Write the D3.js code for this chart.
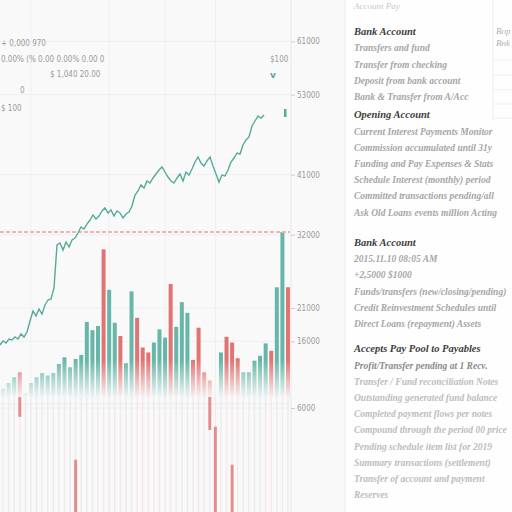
<!DOCTYPE html>
<html><head><meta charset="utf-8">
<script src="https://cdn.jsdelivr.net/npm/d3@7"></script>
<style>html,body{margin:0;padding:0;background:#f9f9f9;}svg{display:block}</style>
</head><body><svg id="c" width="512" height="512"></svg>
<script>
// ---------------- data ----------------
const linePrices = [15450,16050,15750,16350,16200,16650,16350,17100,16650,17400,
  19050,20550,19800,20850,20100,21450,22200,22350,24000,30450,
  30750,29700,30900,30150,31200,31500,32250,33150,32850,33600,
  34200,34950,34350,34800,35550,36000,35250,35700,34800,35550,
  35250,34500,35100,35400,36300,37950,38550,39450,39000,40050,
  39750,40500,41100,41700,42150,41400,40650,40050,39750,40500,
  41100,40050,41400,40950,41850,42900,43650,42750,42300,43050,
  43650,42300,41100,39900,40950,40800,41700,42900,43500,44250,
  44100,45450,46200,46650,48300,49050,49800,49500,49950];
const barVolumes = [5,8.5,12,15,2.5,8.5,12,14.5,13,14.5,
  20,24,18,23,25.5,45.5,40.5,43,89.5,65,
  45,37,20.5,64,48,30,27,33,41,36,
  68.5,42.5,57.5,51,22.5,42,15,10,0,27,
  36.5,33,23.5,15,15,22,25,32.5,28,66.5,
  100,66.5];
const barSides = ["u","u","u","d","u","u","u","u","u","u",
  "u","u","u","u","u","u","u","u","d","u",
  "u","d","u","u","d","d","d","u","u","u",
  "d","u","u","u","d","d","d","d","d","u",
  "d","d","d","u","u","u","u","u","d","u",
  "u","d"];
const dropIdx  = [3, 13, 37, 38, 41];
const dropFrom = [0, -38, 0, -18, -41];
const dropTo   = [-12, -70, -20, -70, -70];
const priceTicks = [61000, 53000, 41000, 32000, 21000, 16000, 6000];
const gridIdx = [5, 19, 29, 38];
const refPrice = 32400;
const lastPrice = 50250;
const notes = ["+ 0,000 970", "0.00% (% 0.00 0.00% 0.00 0", "$ 1,040 20.00", "0", "$ 100"];
const markLabel = "$100";
const sections = [
  {title:"Bank Account", lines:["Transfers and fund","Transfer from checking","Deposit from bank account","Bank & Transfer from A/Acc"]},
  {title:"Opening Account", lines:["Current Interest Payments Monitor","Commission accumulated until 31y","Funding and Pay Expenses & Stats","Schedule Interest (monthly) period","Committed transactions pending/all","Ask Old Loans events million Acting"]},
  {title:"Bank Account", lines:["2015.11.10 08:05 AM","+2,5000 $1000","Funds/transfers (new/closing/pending)","Credit Reinvestment Schedules until","Direct Loans (repayment) Assets"]},
  {title:"Accepts Pay Pool to Payables", lines:["Profit/Transfer pending at 1 Recv.","Transfer / Fund reconciliation Notes","Outstanding generated fund balance","Completed payment flows per notes","Compound through the period 00 price","Pending schedule item list for 2019","Summary transactions (settlement)","Transfer of account and payment","Reserves"]}
];
const sideTable = ["Bop","Bnk"];

// ---------------- drawing ----------------
const svg = d3.select("#c");
const TEAL = "#66b7a9", RED = "#df7473", LINE = "#57aa9a";
const priceY = d3.scaleLinear().domain([6000, 61200]).range([408, 40]);
const volY = d3.scaleLinear().domain([0, 100]).range([397, 232]);
const barX = d3.scaleLinear().domain([0, 51]).range([3, 288]);
const lineX = d3.scaleLinear().domain([0, 100]).range([0, 300]);

svg.append("rect").attr("width",512).attr("height",512).attr("fill","#f9f9f9");
svg.append("rect").attr("x",345).attr("width",167).attr("height",512).attr("fill","#fefefe");
svg.append("line").attr("x1",345).attr("x2",345).attr("y1",0).attr("y2",512).attr("stroke","#ececec");

const defs = svg.append("defs");
function grad(id, col){
  const g = defs.append("linearGradient").attr("id",id).attr("gradientUnits","userSpaceOnUse")
    .attr("x1",0).attr("x2",0).attr("y1",360).attr("y2",399);
  g.append("stop").attr("offset",0).attr("stop-color",col).attr("stop-opacity",1);
  g.append("stop").attr("offset",1).attr("stop-color",col).attr("stop-opacity",0.02);
}
grad("gu", TEAL); grad("gd", RED);

svg.append("g").selectAll("line").data(priceTicks).join("line")
  .attr("x1",0).attr("x2",290).attr("y1",d=>priceY(d)).attr("y2",d=>priceY(d))
  .attr("stroke","#efefef");
svg.append("g").selectAll("line").data(gridIdx).join("line")
  .attr("x1",d=>barX(d)).attr("x2",d=>barX(d)).attr("y1",0).attr("y2",400)
  .attr("stroke","#f0f0f0");

svg.append("g").selectAll("line").data(barVolumes.map((v,i)=>i)).join("line")
  .attr("x1",i=>barX(i)).attr("x2",i=>barX(i)).attr("y1",volY(0)).attr("y2",512)
  .attr("stroke",(i)=>barSides[i]==="d"?"#f6e9e9":"#ececec").attr("stroke-width",1.5);
svg.append("line").attr("x1",0).attr("x2",290).attr("y1",404).attr("y2",404).attr("stroke","#ededed");

svg.append("g").selectAll("rect").data(barVolumes.map((v,i)=>({v,i}))).join("rect")
  .attr("x",d=>barX(d.i)-2).attr("width",4)
  .attr("y",d=>volY(d.v)).attr("height",d=>volY(0)-volY(d.v))
  .attr("fill",d=>barSides[d.i]==="d"?"url(#gd)":"url(#gu)");

svg.append("g").selectAll("rect").data(dropIdx.map((i,k)=>({i,a:dropFrom[k],b:dropTo[k]}))).join("rect")
  .attr("x",d=>barX(d.i)-1.5).attr("width",3)
  .attr("y",d=>volY(d.a)).attr("height",d=>volY(d.b)-volY(d.a))
  .attr("fill",RED).attr("opacity",0.8);

svg.append("line").attr("x1",0).attr("x2",290).attr("y1",priceY(refPrice)).attr("y2",priceY(refPrice))
  .attr("stroke","#f2b3b1").attr("stroke-width",2).attr("stroke-dasharray","4,2");

svg.append("path").datum(linePrices)
  .attr("d", d3.line().x((d,i)=>lineX(i)).y(d=>priceY(d)))
  .attr("fill","none").attr("stroke",LINE).attr("stroke-width",1.4);
svg.append("rect").attr("x",284).attr("y",priceY(lastPrice)-4).attr("width",2.5).attr("height",8).attr("fill",LINE);

svg.append("line").attr("x1",291).attr("x2",291).attr("y1",0).attr("y2",512).attr("stroke","#e8e8e8");
const ax = svg.append("g").attr("transform","translate(291,0)")
  .call(d3.axisRight(priceY).tickValues(priceTicks).tickSize(4).tickPadding(2).tickFormat(d3.format("d")));
ax.select(".domain").remove();
ax.selectAll("line").attr("stroke","#cfcfcf");
ax.selectAll("text").attr("fill","#9a9a9a").style("font-family","DejaVu Sans Condensed, DejaVu Sans, sans-serif").style("font-size","8px");

const noteLayout = [[1,46],[1,62],[50,77],[20,93],[1,111]];
svg.append("g").selectAll("text").data(notes).join("text")
  .attr("x",(d,i)=>noteLayout[i][0]).attr("y",(d,i)=>noteLayout[i][1]).text(d=>d)
  .attr("fill","#9a9a9a").style("font-family","DejaVu Sans Condensed, DejaVu Sans, sans-serif").style("font-size","8px");
svg.append("text").attr("x",270).attr("y",62).text(markLabel).attr("fill","#9a9a9a")
  .style("font-family","DejaVu Sans Condensed, sans-serif").style("font-size","8px");
svg.append("text").attr("x",270).attr("y",78).text("v").attr("fill",LINE)
  .style("font-family","DejaVu Sans, sans-serif").style("font-size","9px").style("font-weight","bold");

const panel = svg.append("g").style("font-family","Liberation Serif, DejaVu Serif, serif").style("font-style","italic");
panel.append("text").attr("x",354).attr("y",9).text("Account Pay").attr("fill","#c8c8c8").style("font-size","9px");
const gaps = [0, 2, 14, 9];
let y = 35;
sections.forEach((s,si)=>{
  y += gaps[si];
  panel.append("text").attr("x",354).attr("y",y).text(s.title).attr("fill","#3d3d3d")
    .style("font-size","10.5px").style("font-weight","bold");
  y += 16.4;
  s.lines.forEach((t,li)=>{
    const col = si===3 ? (li===0 ? "#8a8a8a" : "#bdbdbd") : "#a6a6a6";
    panel.append("text").attr("x",354).attr("y",y).text(t).attr("fill",col)
      .style("font-size","9.5px").style("font-weight","bold");
    y += 16.2;
  });
});
svg.append("line").attr("x1",493).attr("x2",493).attr("y1",0).attr("y2",120).attr("stroke","#ececec");
[60,75,90,104,118].forEach(v=>svg.append("line").attr("x1",493).attr("x2",512).attr("y1",v).attr("y2",v).attr("stroke","#efefef"));
svg.append("g").selectAll("text").data(sideTable).join("text")
  .attr("x",496).attr("y",(d,i)=>34+i*12).text(d=>d).attr("fill","#b0b0b0")
  .style("font-family","Liberation Serif, serif").style("font-style","italic").style("font-size","9px");
</script></body></html>
